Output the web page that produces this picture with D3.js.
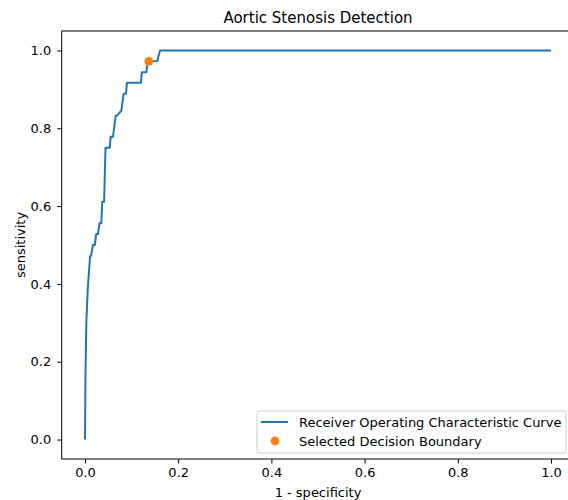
<!DOCTYPE html>
<html><head><meta charset="utf-8">
<script src="https://cdn.jsdelivr.net/npm/d3@7/dist/d3.min.js"></script>
<style>
body{margin:0;background:#fff}
svg{display:block}
text{font-family:"DejaVu Sans",sans-serif;fill:#000}
</style>
</head><body>
<svg id="c" width="568" height="500"></svg>
<script>
// ROC curve points (false positive rate, true positive rate)
const fpr = [0, 0.001, 0.003, 0.006, 0.011, 0.013, 0.017, 0.021, 0.024, 0.028, 0.031, 0.035, 0.037, 0.041, 0.044, 0.053, 0.055, 0.060, 0.066, 0.069, 0.078, 0.083, 0.088, 0.090, 0.120, 0.122, 0.132, 0.134, 0.155, 0.161, 1.0];
const tpr = [0, 0.167, 0.306, 0.389, 0.472, 0.472, 0.5, 0.5, 0.528, 0.528, 0.556, 0.556, 0.611, 0.611, 0.75, 0.75, 0.778, 0.778, 0.833, 0.833, 0.845, 0.889, 0.889, 0.917, 0.917, 0.944, 0.944, 0.972, 0.972, 1.0, 1.0];
const selectedFpr = [0.137];
const selectedTpr = [0.972];
const xTicks = [0.0, 0.2, 0.4, 0.6, 0.8, 1.0];
const yTicks = [0.0, 0.2, 0.4, 0.6, 0.8, 1.0];
const title = "Aortic Stenosis Detection";
const xLabel = "1 - specificity";
const yLabel = "sensitivity";
const legendLabels = ["Receiver Operating Characteristic Curve", "Selected Decision Boundary"];
const lineColor = "#1f77b4", dotColor = "#ff7f0e";

const svg = d3.select("#c");
const L = 61.7, R = 574.3, T = 31, B = 459;
const x = d3.scaleLinear().domain([-0.05, 1.05]).range([L, R]);
const y = d3.scaleLinear().domain([-0.05, 1.05]).range([B, T]);

svg.append("defs").append("clipPath").attr("id","clip")
  .append("rect").attr("x",L).attr("y",T).attr("width",R-L).attr("height",B-T);

const pts = fpr.map((f,i)=>[f,tpr[i]]);
svg.append("path").datum(pts)
  .attr("clip-path","url(#clip)")
  .attr("fill","none").attr("stroke",lineColor).attr("stroke-width",2)
  .attr("stroke-linejoin","round")
  .attr("d", d3.line().x(d=>x(d[0])).y(d=>y(d[1])));

svg.append("g").selectAll("circle").data(selectedFpr.map((f,i)=>[f,selectedTpr[i]]))
  .join("circle").attr("cx",d=>x(d[0])).attr("cy",d=>y(d[1])).attr("r",4.4).attr("fill",dotColor);

// axes
const fmt = d3.format(".1f");
const gx = svg.append("g").attr("transform",`translate(0,${B})`)
  .call(d3.axisBottom(x).tickValues(xTicks).tickFormat(fmt).tickSize(4.5).tickPadding(4.5).tickSizeOuter(0));
const gy = svg.append("g").attr("transform",`translate(${L},0)`)
  .call(d3.axisLeft(y).tickValues(yTicks).tickFormat(fmt).tickSize(4.5).tickPadding(6).tickSizeOuter(0));
[gx,gy].forEach(g=>{
  g.select(".domain").remove();
  g.selectAll("line").attr("stroke","#000").attr("stroke-width",1);
  g.selectAll("text").attr("font-size","13px").attr("font-family","DejaVu Sans, sans-serif").attr("fill","#222");
});

// spines
const sp = svg.append("g").attr("stroke","#000").attr("stroke-width",1).attr("fill","none");
sp.append("rect").attr("x",L).attr("y",T).attr("width",R-L).attr("height",B-T);

// title and labels
svg.append("text").attr("x",(L+R)/2).attr("y",T-8).attr("text-anchor","middle").attr("font-size","15px").attr("fill","#111").text(title);
svg.append("text").attr("x",(L+R)/2).attr("y",B+38).attr("text-anchor","middle").attr("font-size","13px").attr("fill","#222").text(xLabel);
svg.append("text").attr("transform",`translate(${L-37},${(T+B)/2}) rotate(-90)`).attr("text-anchor","middle").attr("font-size","13px").attr("fill","#222").text(yLabel);

// legend
const lg = svg.append("g");
lg.append("rect").attr("x",257).attr("y",411).attr("width",309).attr("height",42).attr("rx",2.5)
  .attr("fill","#fff").attr("fill-opacity",0.8).attr("stroke","#cccccc").attr("stroke-width",1);
lg.append("line").attr("x1",261).attr("x2",288).attr("y1",422).attr("y2",422).attr("stroke",lineColor).attr("stroke-width",2);
lg.append("circle").attr("cx",275).attr("cy",441).attr("r",4.4).attr("fill",dotColor);
lg.selectAll("text.lab").data(legendLabels).join("text").attr("class","lab")
  .attr("x",299).attr("y",(d,i)=>422+i*19).attr("dy","0.35em").attr("font-size","13px").attr("fill","#222").text(d=>d);
</script>
</body></html>
